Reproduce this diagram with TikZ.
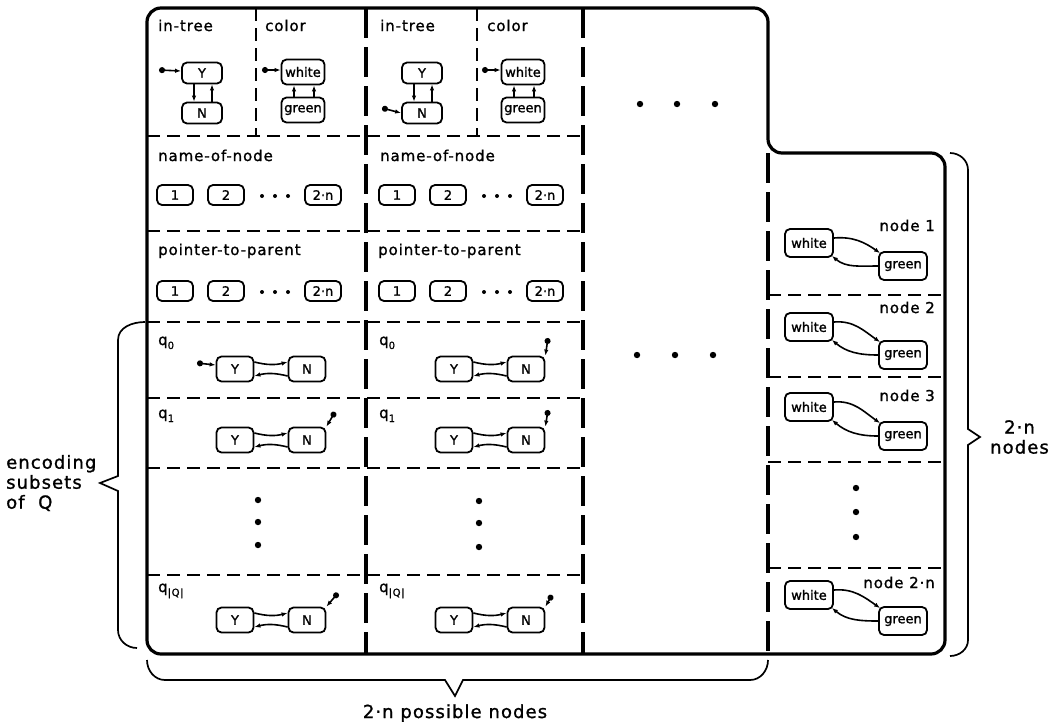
\documentclass[tikz,border=0pt]{standalone}
\usepackage{fontspec}
\setmainfont{DejaVu Sans}
\newfontfamily\lblfam[LetterSpace=6,FakeBold=1.2]{DejaVu Sans}
\newfontfamily\boxfam[FakeBold=1.4]{DejaVu Sans}
\usetikzlibrary{arrows.meta}
\newcommand\lblsize{\lblfam\fontsize{15}{18}\selectfont}
\newcommand\bxf{\boxfam\fontsize{13}{14}\selectfont}
\newcommand\brfont{\lblfam\fontsize{18}{20}\selectfont}
\newcommand\qsb[1]{q\raisebox{-4pt}{\fontsize{10}{10}\selectfont #1}}
\begin{document}
\begin{tikzpicture}[x=1pt,y=-1pt]
\tikzset{
 border/.style={line width=3.2pt, rounded corners=14pt},
 sepv/.style={line width=3.2pt, dash pattern=on 30pt off 9pt},
 seph/.style={line width=2.2pt, dash pattern=on 13pt off 7pt},
 sbox/.style={draw, line width=1.8pt, rounded corners=5pt, inner sep=0pt, font=\bxf},
 itbox/.style={sbox, minimum width=40pt, minimum height=21pt},
 colbox/.style={sbox, minimum width=43pt, minimum height=25pt},
 nmbox/.style={sbox, minimum width=36pt, minimum height=20pt},
 qbox/.style={sbox, minimum width=37pt, minimum height=25pt},
 rbox/.style={sbox, minimum width=48pt, minimum height=28pt},
 arr/.style={line width=1.6pt, -{Latex[length=6pt,width=4.5pt]}},
 init/.style={line width=1.6pt, {Circle[length=6pt]}-{Latex[length=6pt,width=4.5pt]}},
 lbl/.style={font=\lblsize, inner sep=0pt, anchor=base west},
 rlbl/.style={font=\lblsize, inner sep=0pt, anchor=base east},
 brc/.style={line width=1.7pt},
}
\useasboundingbox (0,0) rectangle (1051,726);

% separators
\draw[sepv] (366,8) -- (366,654);
\draw[sepv] (583,8) -- (583,654);
\draw[sepv] (768,153) -- (768,654);
\draw[seph] (256,8) -- (256,136);
\draw[seph] (477,8) -- (477,136);
\foreach \yy in {136,231,322,398,468,575} \draw[seph] (147,\yy) -- (583,\yy);
\foreach \yy in {295,377,462,568} \draw[seph] (768,\yy) -- (945,\yy);

% frame
\draw[border] (147,300) -- (147,8) -- (768,8) -- (768,153) -- (945,153) -- (945,654) -- (147,654) -- cycle;

% in-tree and color
\foreach \c/\d in {a/0,b/220}{
 \node[itbox] (Y\c) at (202+\d,73) {Y};
 \node[itbox] (N\c) at (202+\d,113) {N};
 \draw[arr] ([xshift=-8pt]Y\c.south) -- ([xshift=-8pt]N\c.north);
 \draw[arr] ([xshift=10pt]N\c.north) -- ([xshift=10pt]Y\c.south);
 \node[colbox] (W\c) at (303+\d,72) {white};
 \node[colbox] (G\c) at (303+\d,110) {green};
 \draw[arr] ([xshift=-9pt]G\c.north) -- ([xshift=-9pt]W\c.south);
 \draw[arr] ([xshift=11pt]G\c.north) -- ([xshift=11pt]W\c.south);
 \coordinate (iW\c) at (262+\d,70);
 \draw[init] (iW\c) -- ([yshift=2pt]W\c.west);
}
\coordinate (iYa) at (159,70);
\draw[init] (iYa) -- ([yshift=2pt]Ya.west);
\coordinate (iNb) at (382,108);
\draw[init] (iNb) -- (Nb.west);

\node[lbl] (t1a) at (158,31) {in-tree};
\node[lbl] (t2a) at (265,31) {color};
\node[lbl] (t1b) at (380,31) {in-tree};
\node[lbl] (t2b) at (487,31) {color};
\node[lbl] (t3a) at (158,161) {name-of-node};
\node[lbl] (t3b) at (380,161) {name-of-node};
\node[lbl] (t4a) at (158,255) {pointer-to-parent};
\node[lbl] (t4b) at (378,255) {pointer-to-parent};

% name / pointer rows
\foreach \c/\d in {a/0,b/222}{
 \foreach \r/\yy in {n/195,p/291}{
  \node[nmbox] (\r1\c) at (175+\d,\yy) {1};
  \node[nmbox] (\r2\c) at (226+\d,\yy) {2};
  \node[nmbox] (\r3\c) at (323+\d,\yy) {2·n};
  \foreach \x in {262,275,288} \fill (\x+\d,\yy+1) circle (2pt);
 }
}

% q rows
\foreach \r/\yy in {0/369,1/440,2/620}{
 \foreach \c/\d in {a/0,b/219}{
  \node[qbox] (qY\r\c) at (235+\d,\yy) {Y};
  \node[qbox] (qN\r\c) at (307+\d,\yy) {N};
  \draw[arr] ([yshift=7pt]qY\r\c.east) to[bend right=14] ([yshift=7pt]qN\r\c.west);
  \draw[arr] ([yshift=-7pt]qN\r\c.west) to[bend right=14] ([yshift=-7pt]qY\r\c.east);
 }
}
\coordinate (i0a) at (197,363); \draw[init] (i0a) -- ([yshift=4pt]qY0a.west);
\coordinate (i1a) at (335,412); \draw[init] (i1a) -- (qN1a.north east);
\coordinate (i2a) at (338,593); \draw[init] (i2a) -- (qN2a.north east);
\coordinate (i0b) at (548,338); \draw[init] (i0b) -- (qN0b.north east);
\coordinate (i1b) at (548,410); \draw[init] (i1b) -- (qN1b.north east);
\coordinate (i2b) at (552,595); \draw[init] (i2b) -- (qN2b.north east);

\node[lbl] (l0a) at (158,345) {\qsb{0}};
\node[lbl] (l1a) at (158,418) {\qsb{1}};
\node[lbl] (l2a) at (158,592) {\qsb{|Q|}};
\node[lbl] (l0b) at (379,345) {\qsb{0}};
\node[lbl] (l1b) at (379,418) {\qsb{1}};
\node[lbl] (l2b) at (379,592) {\qsb{|Q|}};

% vertical dots
\foreach \yy in {500,522,545} \fill (258,\yy) circle (3.2pt);
\foreach \yy in {501,523,547} \fill (479,\yy) circle (3.2pt);
\foreach \yy in {488,512,537} \fill (856,\yy) circle (3.2pt);
% horizontal dots
\foreach \x in {640,677,715} \fill (\x,104) circle (3.2pt);
\foreach \x in {637,675,713} \fill (\x,355) circle (3.2pt);

% right panel
\foreach \k/\yw/\yg/\yl/\t in {1/243/266/231/node 1, 2/327/355/313/node 2, 3/407/436/401/node 3, 4/595/621/588/node 2·n}{
 \node[rbox] (rw\k) at (809,\yw) {white};
 \node[rbox] (rg\k) at (903,\yg) {green};
 \draw[arr] ([yshift=5pt]rw\k.east) to[out=5,in=145] ([xshift=2pt,yshift=-2pt]rg\k.north west);
 \draw[arr] (rg\k.west) to[out=180,in=-40] ([xshift=-2pt,yshift=2pt]rw\k.south east);
 \node[rlbl] (rl\k) at (935,\yl) {\t};
}

% braces
\draw[brc] (147,660) to[out=-90,in=180] (165,680) -- (445,680) -- (455,696) -- (463,680) -- (750,680) to[out=0,in=-90] (768,660);
\node[font=\brfont, anchor=base] (bl) at (455,718) {2·n possible nodes};
\draw[brc] (145,322) to[out=180,in=90] (118,340) -- (118,476) -- (100,483) -- (118,491) -- (118,630) to[out=-90,in=180] (137,648);
\node[font=\brfont, anchor=west, align=left, inner sep=0pt] (ll) at (6,483) {encoding\\subsets\\of\ \ Q};
\draw[brc] (950,153) to[out=0,in=90] (968,170) -- (968,429) -- (980,437) -- (968,445) -- (968,640) to[out=-90,in=0] (950,656);
\node[font=\brfont, anchor=west, align=center, inner sep=0pt] (rl) at (990,437) {2·n\\nodes};
\end{tikzpicture}
\end{document}
